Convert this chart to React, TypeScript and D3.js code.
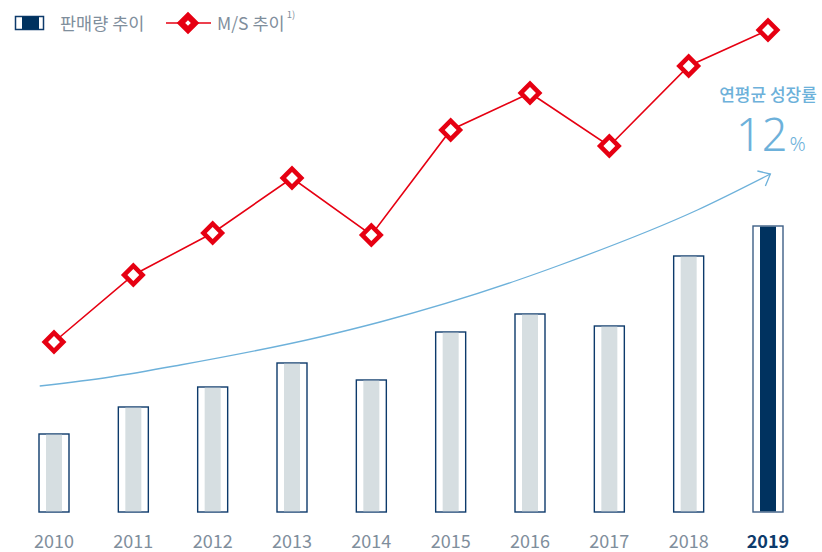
import React from "react";
import * as d3 from "d3";

const years = [2010, 2011, 2012, 2013, 2014, 2015, 2016, 2017, 2018, 2019];
const salesVolume = [78, 105, 125, 149, 132, 180, 198, 186, 256, 286];
const marketShare = [3.4, 4.74, 5.58, 6.68, 5.54, 7.64, 8.38, 7.32, 8.92, 9.64];
// growth trend annotation curve (year, volume)
const trendYears = [2009.82, 2010.71, 2011.59, 2013.35, 2014.11, 2015.85, 2016.38, 2018.11, 2019.03];
const trendValues = [126, 135, 147, 175, 190, 232, 247, 302, 338];

const legendLabels = ["판매량 추이", "M/S 추이"];
const cagrTitle = "연평균 성장률";
const cagrValue = "12";

const W = 822;
const H = 552;
const FONT = "'Noto Sans CJK KR', 'Noto Sans', sans-serif";
const RED = "#e60012";
const NAVY = "#0d3a6b";
const BLUE = "#6db1da";
const GRAY_TXT = "#7f8e9c";

export default function App() {
  const x = d3.scaleLinear().domain([2010, 2019]).range([54, 768]);
  const yBar = d3.scaleLinear().domain([0, 300]).range([512, 212]);
  const yMs = d3.scaleLinear().domain([0, 10]).range([512, 12]);

  const msLine = d3
    .line<number>()
    .x((_, i) => x(years[i]))
    .y((d) => yMs(d));

  const trendLine = d3
    .line<number>()
    .x((_, i) => x(trendYears[i]))
    .y((d) => yBar(d))
    .curve(d3.curveMonotoneX);

  const endX = x(trendYears[trendYears.length - 1]);
  const endY = yBar(trendValues[trendValues.length - 1]);

  const diamond = (cx: number, cy: number, key: string | number, s = 13, sw = 4.6) => (
    <rect
      key={key}
      x={-s / 2}
      y={-s / 2}
      width={s}
      height={s}
      transform={`translate(${cx},${cy}) rotate(45)`}
      fill="#fff"
      stroke={RED}
      strokeWidth={sw}
    />
  );

  return (
    <svg
      width={W}
      height={H}
      style={{ position: "absolute", left: 0, top: 0, fontFamily: FONT }}
    >
      {/* Legend */}
      <g>
        <rect x={15.5} y={16.5} width={28} height={13} fill="#fff" stroke={NAVY} strokeWidth={1.5} />
        <rect x={22} y={16.5} width={17} height={13} fill="#00325f" />
        <text x={60} y={29.5} fontSize={17.5} fill={GRAY_TXT}>
          {legendLabels[0]}
        </text>
        <line x1={166} x2={211} y1={23} y2={23} stroke={RED} strokeWidth={1.5} />
        {diamond(188, 23, "leg", 10, 6)}
        <text x={217} y={29.5} fontSize={17.5} fill={GRAY_TXT}>
          {legendLabels[1]}
          <tspan fontSize={9.5} dx={2} dy={-12}>1)</tspan>
        </text>
      </g>

      {/* Bars */}
      {salesVolume.map((v, i) => {
        const cx = x(years[i]);
        const top = yBar(v);
        const bottom = yBar(0);
        const last = i === years.length - 1;
        return (
          <g key={years[i]}>
            <rect
              x={cx - 15}
              y={top}
              width={30}
              height={bottom - top}
              fill="#fff"
              stroke={last ? "#3e5f86" : NAVY}
              strokeWidth={1.4}
            />
            <rect
              x={cx - 8}
              y={top + 0.7}
              width={16}
              height={bottom - top - 1.4}
              fill={last ? "#00325f" : "#d6dee1"}
            />
          </g>
        );
      })}

      {/* Trend arrow */}
      <path d={trendLine(trendValues) || ""} fill="none" stroke={BLUE} strokeWidth={1.3} />
      <path
        d={`M${endX - 13},${endY - 3} L${endX},${endY} L${endX - 5},${endY + 12}`}
        fill="none"
        stroke={BLUE}
        strokeWidth={1.3}
      />

      {/* M/S line */}
      <path d={msLine(marketShare) || ""} fill="none" stroke={RED} strokeWidth={1.6} />
      {marketShare.map((v, i) => diamond(x(years[i]), yMs(v), i))}

      {/* CAGR annotation */}
      <text x={768} y={101} fontSize={17} fontWeight={500} fill={BLUE} textAnchor="middle">
        {cagrTitle}
      </text>
      <text x={736} y={151} fill={BLUE} fontFamily="'Noto Sans', sans-serif">
        <tspan fontSize={45} fontWeight={300}>{cagrValue}</tspan>
        <tspan fontSize={20} fontWeight={300} dx={2}>%</tspan>
      </text>

      {/* X axis labels */}
      {years.map((yr, i) => {
        const last = i === years.length - 1;
        return (
          <text
            key={yr}
            x={x(yr)}
            y={548}
            fontSize={18}
            textAnchor="middle"
            fill={last ? NAVY : GRAY_TXT}
            fontWeight={last ? 700 : 400}
          >
            {yr}
          </text>
        );
      })}
    </svg>
  );
}
